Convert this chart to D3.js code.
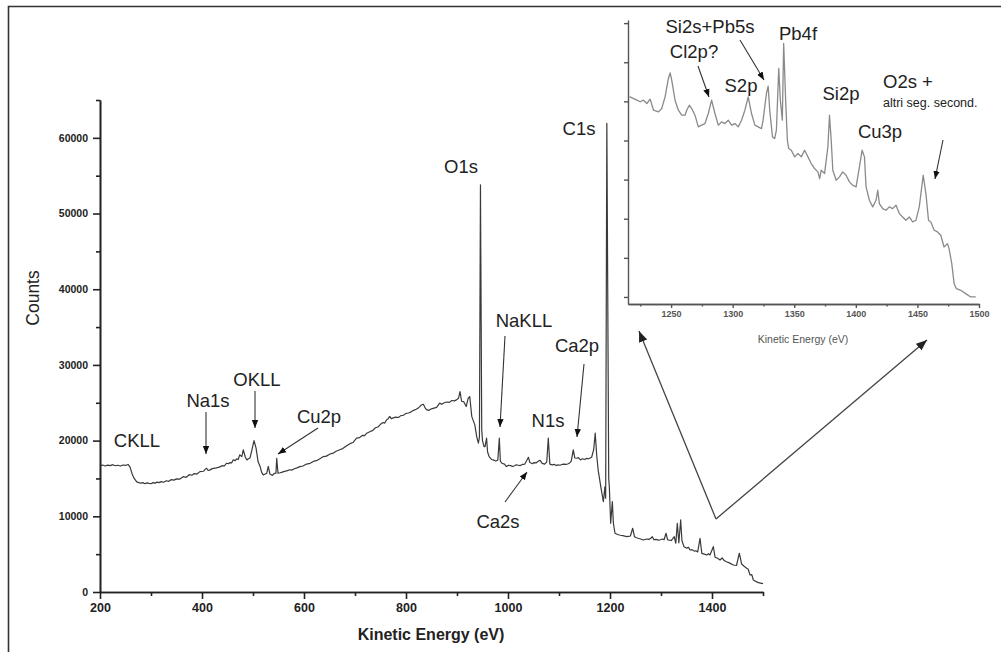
<!DOCTYPE html>
<html>
<head>
<meta charset="utf-8">
<script src="https://cdn.jsdelivr.net/npm/d3@7/dist/d3.min.js"></script>
<style>
  html, body { margin: 0; padding: 0; background: #fff; }
  svg { display: block; font-family: "Liberation Sans", Arial, Helvetica, sans-serif; }
</style>
</head>
<body>
<svg id="chart" width="1001" height="652"></svg>
<script>
// XPS survey spectrum (Al Kα), kinetic energy in eV vs counts
const energy = [
  200, 205, 210, 215, 220, 225, 230, 235, 240, 245,
  250, 255, 259, 263, 267, 272, 276, 280, 284, 288,
  292, 296, 300, 304, 308, 312, 316, 320, 325, 330,
  335, 340, 345, 350, 356, 363, 369, 375, 380, 385,
  390, 396, 403, 406, 409, 412, 415, 420, 428, 434,
  440, 444, 448, 452, 455, 458, 461, 465, 468, 471,
  474, 478, 481, 485, 488, 491, 494, 498, 502, 506,
  510, 514, 517, 520, 524, 527, 530, 533, 536, 538,
  541, 545, 546.5, 549, 553, 556, 560, 566, 572, 576,
  580, 586, 592, 598, 605, 612, 620, 626, 632, 638,
  644, 650, 657, 663, 670, 676, 683, 690, 696, 703,
  709, 715, 719, 723, 730, 735, 740, 745, 750, 755,
  758, 762, 765, 768, 771, 775, 780, 785, 790, 795,
  800, 805, 810, 815, 820, 824, 827, 830, 834, 837,
  840, 845, 850, 855, 860, 866, 870, 875, 880, 885,
  890, 895, 899, 903, 906, 909, 913, 918, 922, 925,
  929, 935, 938.6, 941.9, 944, 946, 948.5, 950, 953, 955,
  958, 960, 963, 968, 971, 976, 980, 983, 985, 988,
  993, 997, 1001, 1005, 1009, 1012, 1016, 1020, 1024, 1028,
  1033, 1037, 1040, 1043, 1048, 1051, 1055, 1060, 1063, 1067,
  1072, 1076, 1079, 1082, 1087, 1091, 1095, 1098, 1102, 1106,
  1110, 1114, 1118, 1121, 1124, 1128, 1131, 1135, 1138, 1142,
  1146, 1150, 1154, 1158, 1161, 1164, 1168, 1171, 1174, 1177,
  1182, 1187, 1190, 1191.5, 1193.8, 1197.5, 1198.7, 1201.3, 1204.6, 1206.6,
  1209.8, 1215, 1220, 1225, 1229, 1232.7, 1236, 1240, 1244.5, 1248,
  1251, 1255, 1260, 1265, 1272, 1276, 1280, 1283, 1286, 1290,
  1295, 1299, 1303, 1306, 1309.8, 1313, 1316, 1320, 1326, 1329,
  1332, 1335, 1338.6, 1341, 1345, 1350, 1354, 1357, 1361, 1365,
  1368, 1372, 1376.5, 1380, 1385, 1389.6, 1393, 1396, 1402.6, 1406,
  1411, 1415.7, 1420, 1424, 1428, 1434, 1441.8, 1448, 1453.6, 1458,
  1463, 1468, 1471, 1474.5, 1478, 1481, 1486, 1491, 1497.4, 1500
];
const counts = [
  16700, 16780, 16650, 16760, 16700, 16820, 16680, 16750, 16640, 16780,
  16720, 16850, 16500, 15600, 15000, 14550, 14450, 14380, 14450, 14300,
  14420, 14350, 14300, 14450, 14380, 14520, 14450, 14580, 14500, 14700,
  14620, 14850, 14780, 14950, 14900, 15240, 15150, 15500, 15420, 15650,
  15580, 15900, 15950, 16200, 16350, 16050, 16100, 16300, 16400, 16500,
  16700, 16650, 17010, 16950, 17100, 17050, 17450, 17350, 17600, 17500,
  18110, 17900, 18770, 17800, 17450, 17600, 17700, 18800, 20000, 19000,
  17200, 16570, 15800, 15470, 15600, 15700, 16600, 15600, 15500, 15400,
  15650, 15700, 17670, 15690, 15750, 15800, 15900, 16000, 16150, 16100,
  16250, 16400, 16570, 16650, 16900, 17000, 17300, 17400, 17650, 17890,
  17950, 18200, 18340, 18600, 18800, 18950, 19300, 19600, 19750, 20320,
  20400, 20700, 20650, 20980, 21200, 21350, 21700, 21800, 22150, 22400,
  22300, 22740, 22900, 23200, 22900, 23000, 23100, 23050, 23300, 23350,
  23600, 23650, 23800, 24000, 24150, 24300, 24500, 24700, 24800, 24400,
  24100, 24000, 24200, 24300, 24400, 24950, 24800, 25000, 25100, 25050,
  25300, 25250, 25380, 25600, 26480, 25200, 25160, 24500, 25600, 25820,
  23170, 22080, 20530, 19660, 20500, 53800, 21400, 20000, 19200, 19210,
  20320, 18500, 17890, 17500, 17450, 17300, 17400, 20320, 17300, 17010,
  16900, 16570, 16750, 16700, 16600, 16650, 16800, 16750, 16700, 16850,
  16900, 17400, 17800, 17100, 16950, 17100, 17050, 17300, 17400, 17000,
  16900, 17200, 20320, 16900, 16790, 16850, 16700, 16800, 16750, 16850,
  16900, 16850, 16950, 17050, 17300, 18770, 17700, 17670, 17750, 17450,
  17600, 17500, 17650, 17600, 17700, 17800, 18800, 20980, 18000, 16000,
  13900, 11940, 13900, 12400, 61900, 15000, 13900, 9080, 11940, 9080,
  7760, 7600, 7500, 7450, 7380, 7310, 7350, 7400, 8420, 7300,
  7200, 7100, 7000, 6870, 7000, 6950, 7100, 7300, 6900, 6950,
  6850, 6900, 7000, 6900, 7760, 6900, 6850, 6800, 7300, 6440,
  9080, 6500, 9520, 6800, 5990, 5800, 5900, 5550, 5600, 5400,
  5450, 5300, 7100, 5100, 5000, 4890, 5050, 4900, 5990, 4600,
  4450, 4230, 4500, 4150, 4000, 3850, 3570, 3500, 5120, 3700,
  3400, 3130, 3000, 2250, 2300, 1590, 1400, 1230, 1150, 1100
];

// High-resolution detail of the 1215–1500 eV window
const insetEnergy = [
  1216.3, 1219.5, 1222.2, 1224.9, 1227.6, 1230.3, 1233.0, 1235.7, 1239.8, 1242.4, 1245.1, 1247.8, 1249.2, 1250.5, 1253.2, 1255.9, 1258.6, 1261.3, 1262.7, 1264.8,
  1266.7, 1269.4, 1272.1, 1274.8, 1277.5, 1280.2, 1282.9, 1285.6, 1288.3, 1291.0, 1293.7, 1296.4, 1299.1, 1301.8, 1304.5, 1307.2, 1309.9, 1312.6, 1315.3, 1318.0,
  1320.7, 1323.4, 1324.7, 1327.4, 1328.8, 1330.1, 1332.3, 1334.1, 1335.5, 1337.4, 1338.7, 1340.3, 1341.4, 1343.0, 1344.4, 1345.5, 1347.6, 1350.3, 1353.0, 1355.7,
  1358.4, 1361.1, 1363.8, 1366.5, 1369.2, 1370.6, 1371.9, 1374.6, 1377.3, 1378.6, 1380.0, 1381.3, 1384.0, 1386.7, 1389.4, 1392.1, 1394.8, 1397.5, 1400.2, 1402.9,
  1405.1, 1407.0, 1408.3, 1411.0, 1413.7, 1416.4, 1417.8, 1419.1, 1421.8, 1424.5, 1427.2, 1429.9, 1432.6, 1435.3, 1438.0, 1440.7, 1443.4, 1446.1, 1448.8, 1451.5,
  1454.7, 1456.9, 1459.0, 1460.9, 1463.6, 1466.3, 1469.0, 1471.6, 1474.4, 1475.7, 1477.9, 1479.8, 1481.7, 1485.2, 1489.2, 1493.3, 1497.3
];
const insetCounts = [
  6120, 6070, 6030, 5990, 6030, 5945, 6056, 5774, 5732, 5817, 6116, 6585, 6729, 6542, 6030, 5774, 5647, 5647, 5774, 5902,
  5817, 5647, 5348, 5391, 5433, 5689, 6030, 5689, 5391, 5476, 5433, 5519, 5391, 5433, 5348, 5519, 5774, 6116, 5689, 5391,
  5348, 5305, 5519, 6201, 6388, 5774, 5092, 5050, 5263, 6840, 6030, 5519, 7480, 6030, 5007, 4794, 4751, 4581, 4666, 4581,
  4751, 4581, 4410, 4282, 4197, 4026, 4240, 4154, 4836, 5647, 5007, 4240, 3984, 4069, 4197, 4112, 3941, 3856, 3813, 4325,
  4751, 4581, 3813, 3472, 3302, 3472, 3728, 3387, 3259, 3216, 3302, 3259, 3344, 3131, 3046, 2960, 3046, 2918, 2960, 3302,
  4112, 3643, 2960, 2918, 2705, 2662, 2577, 2278, 2364, 2236, 1852, 1340, 1212, 1170, 1085, 1000, 1000
];

const xTicks = [200, 400, 600, 800, 1000, 1200, 1400];
const xMinorTicks = [300, 500, 700, 900, 1100, 1300, 1500];
const yTicks = [0, 10000, 20000, 30000, 40000, 50000, 60000];
const yMinorTicks = [5000, 15000, 25000, 35000, 45000, 55000, 65000];
const insetXTicks = [1250, 1300, 1350, 1400, 1450, 1500];
const insetXMinorTicks = [1225, 1275, 1325, 1375, 1425, 1475];
const insetYTicks = [1000, 2000, 3000, 4000, 5000, 6000, 7000, 8000];

// Peak annotations on the survey: label, label anchor, optional arrow (from -> tip)
const mainNotes = [
  { text: "CKLL",  x: 137, y: 447 },
  { text: "Na1s",  x: 208, y: 407, arrow: [206, 412, 206, 454] },
  { text: "OKLL",  x: 257, y: 386, arrow: [255, 391, 255, 428] },
  { text: "Cu2p",  x: 319, y: 423, arrow: [318, 428, 278, 454] },
  { text: "O1s",   x: 461, y: 173 },
  { text: "NaKLL", x: 524, y: 327, arrow: [505, 336, 500, 427] },
  { text: "Ca2p",  x: 577, y: 352, arrow: [584, 364, 577, 437] },
  { text: "N1s",   x: 548, y: 427 },
  { text: "Ca2s",  x: 498, y: 528, arrow: [505, 502, 527, 472] },
  { text: "C1s",   x: 579, y: 135 }
];
const insetNotes = [
  { text: "Si2s+Pb5s", x: 710, y: 33, arrow: [740, 40, 764, 80] },
  { text: "Cl2p?", x: 694, y: 58, arrow: [698, 66, 709, 97] },
  { text: "S2p",  x: 741, y: 92 },
  { text: "Pb4f", x: 798, y: 40 },
  { text: "Si2p", x: 841, y: 100 },
  { text: "Cu3p", x: 880, y: 138 },
  { text: "O2s +", x: 883, y: 88, anchor: "start" },
  { text: "altri seg. second.", x: 883, y: 107, anchor: "start", small: true, arrow: [943, 140, 935, 179] }
];

const svg = d3.select("#chart");

// page frame
svg.append("path").attr("d", "M8.5,652 V6.5 H1001")
  .attr("fill", "none").attr("stroke", "#333").attr("stroke-width", 1.6);

const defs = svg.append("defs");
defs.append("marker").attr("id", "head").attr("viewBox", "0 0 10 10")
  .attr("refX", 10).attr("refY", 5).attr("markerWidth", 8).attr("markerHeight", 8)
  .attr("markerUnits", "userSpaceOnUse").attr("orient", "auto")
  .append("path").attr("d", "M0,1 L10,5 L0,9 Z").attr("fill", "#111");
defs.append("marker").attr("id", "headBig").attr("viewBox", "0 0 10 10")
  .attr("refX", 10).attr("refY", 5).attr("markerWidth", 11).attr("markerHeight", 11)
  .attr("markerUnits", "userSpaceOnUse").attr("orient", "auto")
  .append("path").attr("d", "M0,1 L10,5 L0,9 Z").attr("fill", "#222");

// ---- main survey plot ----
const x = d3.scaleLinear().domain([200, 1500]).range([100, 763]);
const y = d3.scaleLinear().domain([0, 65000]).range([592, 100]);

const main = svg.append("g");

const line = d3.line().x(d => x(d[0])).y(d => y(d[1]));
main.append("path")
  .datum(energy.map((e, i) => [e, counts[i]]))
  .attr("d", line).attr("fill", "none")
  .attr("stroke", "#3a3a3a").attr("stroke-width", 1.2).attr("stroke-linejoin", "round");

function styleAxis(g, color, width) {
  g.select(".domain").attr("stroke", color).attr("stroke-width", width);
  g.selectAll(".tick line").attr("stroke", color).attr("stroke-width", width);
}

const gx = main.append("g").attr("transform", "translate(0,592)")
  .call(d3.axisBottom(x).tickValues(xTicks).tickSize(7).tickSizeOuter(0).tickPadding(4).tickFormat(d3.format("d")));
styleAxis(gx, "#222", 1.6);
gx.selectAll("text").attr("font-size", 12.5).attr("font-weight", "bold").attr("fill", "#222");
const gxm = main.append("g").attr("transform", "translate(0,592)")
  .call(d3.axisBottom(x).tickValues(xMinorTicks).tickSize(4).tickSizeOuter(0).tickFormat(""));
styleAxis(gxm, "#222", 1.6);

const gy = main.append("g").attr("transform", "translate(100,0)")
  .call(d3.axisLeft(y).tickValues(yTicks).tickSize(7).tickSizeOuter(0).tickPadding(5).tickFormat(d3.format("d")));
styleAxis(gy, "#222", 1.6);
gy.selectAll("text").attr("font-size", 10.5).attr("font-weight", "bold").attr("fill", "#222");
const gym = main.append("g").attr("transform", "translate(100,0)")
  .call(d3.axisLeft(y).tickValues(yMinorTicks).tickSize(4).tickSizeOuter(0).tickFormat(""));
styleAxis(gym, "#222", 1.6);

svg.append("text").attr("x", 431).attr("y", 640).attr("text-anchor", "middle")
  .attr("font-size", 16).attr("font-weight", "bold").attr("fill", "#222")
  .text("Kinetic Energy (eV)");
svg.append("text").attr("transform", "translate(39,298) rotate(-90)").attr("text-anchor", "middle")
  .attr("font-size", 17.5).attr("fill", "#222").text("Counts");

// ---- inset: 1215–1500 eV detail ----
const xi = d3.scaleLinear().domain([1215, 1500]).range([628, 979]);
const yi = d3.scaleLinear().domain([820, 8080]).range([304, 20]);
const inset = svg.append("g");

inset.append("path")
  .datum(insetEnergy.map((e, i) => [e, insetCounts[i]]))
  .attr("d", d3.line().x(d => xi(d[0])).y(d => yi(d[1])))
  .attr("fill", "none").attr("stroke", "#8a8a8a").attr("stroke-width", 1.3).attr("stroke-linejoin", "round");

const gxi = inset.append("g").attr("transform", "translate(0,304)")
  .call(d3.axisBottom(xi).tickValues(insetXTicks).tickSize(4).tickSizeOuter(0).tickPadding(3).tickFormat(d3.format("d")));
styleAxis(gxi, "#555", 1.4);
gxi.selectAll("text").attr("font-size", 9).attr("font-weight", "bold").attr("fill", "#555");
const gxim = inset.append("g").attr("transform", "translate(0,304)")
  .call(d3.axisBottom(xi).tickValues(insetXMinorTicks).tickSize(2.5).tickSizeOuter(0).tickFormat(""));
styleAxis(gxim, "#555", 1.4);

const gyi = inset.append("g").attr("transform", "translate(628,0)")
  .call(d3.axisLeft(yi).tickValues(insetYTicks).tickSize(4).tickSizeOuter(0).tickFormat(""));
styleAxis(gyi, "#555", 1.4);

inset.append("text").attr("x", 803).attr("y", 343).attr("text-anchor", "middle")
  .attr("font-size", 10.5).attr("fill", "#555").text("Kinetic Energy (eV)");

// ---- annotations ----
function drawNotes(notes, size) {
  notes.forEach(n => {
    svg.append("text").attr("x", n.x).attr("y", n.y)
      .attr("text-anchor", n.anchor || "middle")
      .attr("font-size", n.small ? 12.5 : size).attr("fill", "#222")
      .text(n.text);
    if (n.arrow) {
      const [x1, y1, x2, y2] = n.arrow;
      svg.append("line").attr("x1", x1).attr("y1", y1).attr("x2", x2).attr("y2", y2)
        .attr("stroke", "#333").attr("stroke-width", 1.1).attr("marker-end", "url(#head)");
    }
  });
}
drawNotes(mainNotes, 18.5);
drawNotes(insetNotes, 18.5);

// pointers from the survey tail to the inset window
const vertex = [716, 519];
[[639, 331], [927, 340]].forEach(t => {
  svg.append("line").attr("x1", vertex[0]).attr("y1", vertex[1]).attr("x2", t[0]).attr("y2", t[1])
    .attr("stroke", "#444").attr("stroke-width", 1.3).attr("marker-end", "url(#headBig)");
});
</script>
</body>
</html>
